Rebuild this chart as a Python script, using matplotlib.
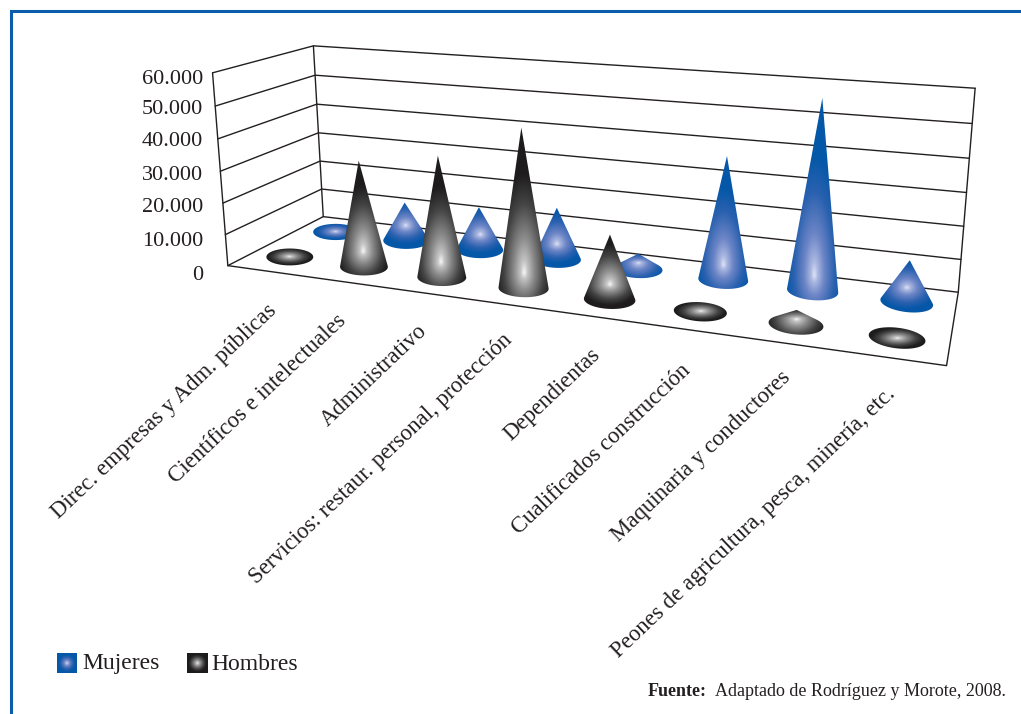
"""
Occupations by sex, drawn as a 3D cone chart with a perspective projection.
"""

import numpy as np
import matplotlib
matplotlib.use('Agg')
import matplotlib.pyplot as plt
from matplotlib.colors import LinearSegmentedColormap
from matplotlib.patches import Polygon

categories = [
    'Direc. empresas y Adm. públicas',
    'Científicos e intelectuales',
    'Administrativo',
    'Servicios: restaur. personal, protección',
    'Dependientas',
    'Cualificados construcción',
    'Maquinaria y conductores',
    'Peones de agricultura, pesca, minería, etc.',
]
mujeres = [300, 13000, 14200, 16800, 5000, 38000, 57000, 12600]
hombres = [300, 33600, 37500, 48000, 19400, 300, 4200, 300]
ticks = [0, 10000, 20000, 30000, 40000, 50000, 60000]
tick_labels = ['0', '10.000', '20.000', '30.000', '40.000', '50.000', '60.000']

VMAX = 60000
INK = '#231f20'
BLUE = '#0b5cab'
FONT = 'Liberation Serif'

# where the box corners land on the page, as (category, depth, height) -> pixel
box_corners = [
    ((0, 0, 0), (228, 265)), ((0, 1, 0), (323, 217)),
    ((1, 0, 0), (947, 365)), ((1, 1, 0), (958, 293)),
    ((0, 0, 1), (212, 74)), ((0, 1, 1), (314, 45)),
    ((1, 1, 1), (975, 88)),
]

# label anchor points under the floor edge
label_anchors = [(266, 300), (336, 310), (417, 320), (502, 330),
                 (590, 344), (680, 360), (780, 367), (885, 383)]
tick_label_y = [275, 241, 207, 175, 142, 110, 79]

cmap_blue = LinearSegmentedColormap.from_list(
    'mujeres', [(0, '#dfe3f6'), (0.12, '#a9b6e0'), (0.35, '#6c85c6'), (0.7, '#2a61af'), (1, '#0557a8')])
cmap_dark = LinearSegmentedColormap.from_list(
    'hombres', [(0, '#f8f8f8'), (0.12, '#c4c4c4'), (0.35, '#8c8c8c'), (0.7, '#444444'), (1, '#1e1c1d')])


def fit_projection(corners):
    # direct linear transform, last matrix entry fixed to 1
    A, b = [], []
    for (u, v, w), (x, y) in corners:
        A.append([u, v, w, 1, 0, 0, 0, 0, -x * u, -x * v, -x * w])
        A.append([0, 0, 0, 0, u, v, w, 1, -y * u, -y * v, -y * w])
        b += [x, y]
    p = np.linalg.lstsq(np.array(A, float), np.array(b, float), rcond=None)[0]
    return np.append(p, 1).reshape(3, 4)


P = fit_projection(box_corners)


def project(u, v, w):
    u, v, w = np.broadcast_arrays(u, v, w)
    h = P @ np.vstack([u.ravel(), v.ravel(), w.ravel(), np.ones(u.size)])
    return h[0] / h[2], h[1] / h[2]


def convex_hull(points):
    pts = sorted(set(map(tuple, points)))

    def half(seq):
        out = []
        for p in seq:
            while len(out) > 1 and ((out[-1][0] - out[-2][0]) * (p[1] - out[-2][1])
                                    - (out[-1][1] - out[-2][1]) * (p[0] - out[-2][0])) <= 0:
                out.pop()
            out.append(p)
        return out[:-1]

    return np.array(half(pts) + half(pts[::-1]))


def draw_cone(ax, u, v, value, cmap, zorder):
    cx, cy = [c[0] for c in project(u, v, 0)]
    tip_x, tip_y = [c[0] for c in project(u, v, value / VMAX)]

    # base ellipse: width follows the perspective, tilt grows to the right
    ex, _ = project([u - 0.034, u + 0.034], v, 0)
    half_w = (ex[1] - ex[0]) / 2 + (1 - u) * 4
    half_h = half_w * 0.36
    tilt = np.radians(8 * u ** 2)
    theta = np.linspace(0, 2 * np.pi, 120, endpoint=False)
    bx = cx + half_w * np.cos(theta) * np.cos(tilt) - half_h * np.sin(theta) * np.sin(tilt)
    by = cy + half_w * np.cos(theta) * np.sin(tilt) + half_h * np.sin(theta) * np.cos(tilt)
    hull = convex_hull(np.vstack([np.c_[bx, by], [[tip_x, tip_y]]]))

    # elliptical highlight low on the body of the cone
    height = cy - tip_y
    flat = height <= half_h
    hx = cx + (tip_x - cx) * 0.14
    if flat:
        hy, rx, ry_up, ry_down = cy, half_w * 0.92, half_h * 0.95, half_h * 0.95
    else:
        hy = cy - min(height * 0.4, 15)
        rx = half_w * 1.12
        ry_up = max(height * 0.62, half_h * 1.05)
        ry_down = max(ry_up * 0.5, half_w * 0.8)
    x0, x1 = hull[:, 0].min() - 1, hull[:, 0].max() + 1
    y0, y1 = hull[:, 1].min() - 1, hull[:, 1].max() + 1
    gx, gy = np.meshgrid(np.linspace(x0, x1, 160), np.linspace(y0, y1, 320))
    ry = np.where(gy < hy, ry_up, ry_down)
    r = np.hypot((gx - hx) / rx, (gy - hy) / ry)
    im = ax.imshow(np.clip(r, 0, 1), cmap=cmap, vmin=0, vmax=1, extent=(x0, x1, y1, y0),
                   aspect='auto', interpolation='bilinear', zorder=zorder)
    patch = Polygon(hull, closed=True, transform=ax.transData, fc='none', ec='none')
    ax.add_patch(patch)
    im.set_clip_path(patch)


def draw_swatch(ax, x0, y0, size, cmap):
    gx, gy = np.meshgrid(np.linspace(-1, 1, 40), np.linspace(-1, 1, 40))
    ax.imshow(np.clip(np.hypot(gx, gy) * 1.15, 0, 1), cmap=cmap, vmin=0, vmax=1,
              extent=(x0, x0 + size, y0 + size, y0), aspect='auto', zorder=5)


fig = plt.figure(figsize=(10.21, 7.14), dpi=100)
ax = fig.add_axes([0, 0, 1, 1])

# outer frame, open at the bottom and on the right
ax.plot([11, 11, 1021], [714, 11, 11], color=BLUE, lw=2.2, solid_joinstyle='miter', zorder=1)

# walls and floor of the box
line = dict(color=INK, lw=1.0, zorder=2, solid_capstyle='round')
for t in ticks:
    w = t / VMAX
    xs, ys = project([0, 0, 1], [0, 1, 1], w)
    ax.plot(xs, ys, **line)
xs, ys = project([0, 0], [0, 0], [0, 1])
ax.plot(xs, ys, **line)
xs, ys = project([0, 0], [1, 1], [0, 1])
ax.plot(xs, ys, **line)
xs, ys = project([1, 1, 1, 0], [1, 1, 0, 0], [1, 0, 0, 0])
ax.plot(xs, ys, **line)

# back row first so the front row overlaps it
n = len(categories)
for i in range(n):
    draw_cone(ax, (i + 0.5) / n, 0.75, mujeres[i], cmap_blue, 3 + i * 0.01)
for i in range(n):
    draw_cone(ax, (i + 0.5) / n, 0.25, hombres[i], cmap_dark, 4 + i * 0.01)

for y, label in zip(tick_label_y, tick_labels):
    ax.text(203, y, label, ha='right', va='center', family=FONT, fontsize=16, color=INK)

for (x, y), label in zip(label_anchors, categories):
    ax.text(x, y, label, ha='right', va='top', rotation=43.5, rotation_mode='anchor',
            family=FONT, fontsize=16.4, color=INK)

# legend
draw_swatch(ax, 57, 653, 20, cmap_blue)
draw_swatch(ax, 187, 653, 20, cmap_dark)
ax.text(82, 664, 'Mujeres', va='center', family=FONT, fontsize=17, color=INK)
ax.text(211, 664, 'Hombres', va='center', family=FONT, fontsize=17, color=INK)

# source note
ax.text(648, 692, 'Fuente:', va='center', family=FONT, fontsize=13, weight='bold', color=INK)
ax.text(1006, 692, 'Adaptado de Rodríguez y Morote, 2008.', ha='right', va='center',
        family=FONT, fontsize=13, color=INK)

ax.set_xlim(0, 1021)
ax.set_ylim(714, 0)
ax.axis('off')

fig.savefig('out.png', dpi=100)
